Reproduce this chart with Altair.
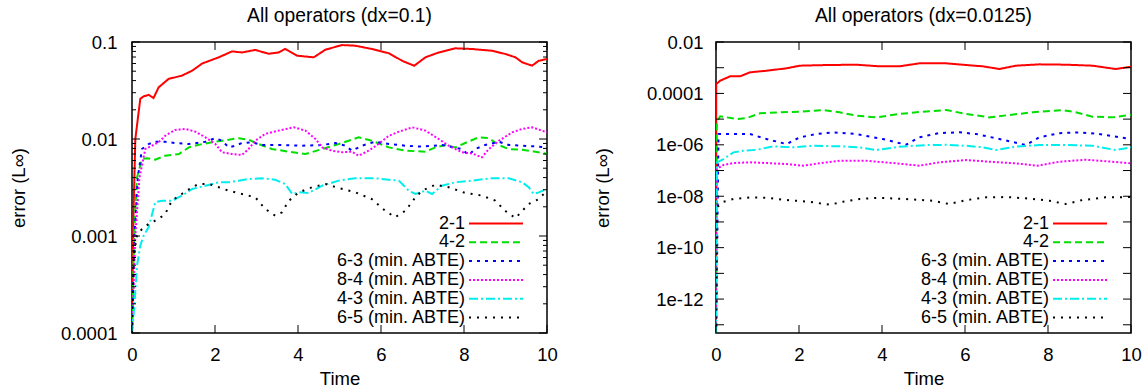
import altair as alt
import pandas as pd
import math

FONT = "Liberation Sans"

names = ["2-1", "4-2", "6-3 (min. ABTE)", "8-4 (min. ABTE)", "4-3 (min. ABTE)", "6-5 (min. ABTE)"]
colors = ["#ff0000", "#00e000", "#0000ff", "#ff00ff", "#00eeee", "#000000"]
dashes = [[1, 0], [7, 4], [3, 5], [2, 2], [9, 3, 2, 3], [2, 6]]

x_ticks = [0, 2, 4, 6, 8, 10]

# ---------------- left panel (dx=0.1) ----------------
L_t_21 = [0, 0.02, 0.04, 0.08, 0.20, 0.28, 0.40, 0.52, 0.64, 0.88, 1.20, 1.45, 1.69, 2.09, 2.41, 2.65, 2.97, 3.29, 3.53, 3.69, 3.98,
          4.38, 4.66, 5.06, 5.38, 5.78, 6.19, 6.51, 6.80, 7.07, 7.39, 7.79, 8.19, 8.67, 9.0, 9.24, 9.40, 9.64, 9.80, 10.0]
L_v_21 = [1e-4, 0.0006, 0.002, 0.010, 0.026, 0.0275, 0.0285, 0.0265, 0.034, 0.0416, 0.045, 0.0506, 0.060, 0.0695, 0.080, 0.078, 0.0828, 0.0757, 0.078, 0.0847, 0.0723,
          0.0695, 0.0833, 0.093, 0.0916, 0.0847, 0.0766, 0.064, 0.0569, 0.0695, 0.078, 0.0861, 0.0847, 0.0813, 0.0752, 0.0695, 0.0618, 0.057, 0.064, 0.0668]

L_t_42 = [0, 0.05, 0.12, 0.24, 0.36, 0.56, 0.80, 1.13, 1.37, 1.69, 1.93, 2.17, 2.57, 2.81, 3.05, 3.37, 3.78, 4.18, 4.58, 4.98, 5.46,
          5.78, 6.19, 6.59, 7.07, 7.31, 7.55, 7.79, 8.03, 8.35, 8.60, 8.84, 9.08, 9.40, 9.72, 10.0]
L_v_42 = [1e-4, 0.001, 0.004, 0.00622, 0.00632, 0.00612, 0.00673, 0.0070, 0.0082, 0.00887, 0.00924, 0.0096, 0.0102, 0.00984, 0.00887, 0.00788, 0.0074, 0.0070, 0.00788, 0.00887, 0.0104,
          0.0096, 0.0082, 0.00758, 0.0074, 0.0082, 0.00867, 0.0082, 0.0091, 0.0104, 0.0102, 0.00867, 0.00788, 0.00776, 0.0074, 0.00705]

L_t_63 = [0, 0.06, 0.14, 0.24, 0.40, 0.56, 0.80, 1.04, 1.37, 1.77, 2.01, 2.17, 2.33, 2.49, 2.65, 2.89, 3.13, 3.61, 4.10, 4.58, 4.90,
          5.14, 5.30, 5.54, 5.86, 6.19, 6.59, 6.99, 7.47, 7.95, 8.11, 8.27, 8.51, 8.84, 9.08, 9.40, 9.72, 10.0]
L_v_63 = [1e-4, 0.001, 0.004, 0.00788, 0.00887, 0.00937, 0.00937, 0.0091, 0.00887, 0.00937, 0.0102, 0.0096, 0.0082, 0.00853, 0.0091, 0.00925, 0.00867, 0.00867, 0.00853, 0.00867, 0.0091,
          0.00853, 0.00757, 0.00853, 0.00937, 0.00887, 0.00853, 0.00834, 0.00867, 0.00788, 0.00684, 0.00788, 0.00867, 0.00937, 0.00867, 0.00853, 0.0084, 0.0082]

L_t_84 = [0, 0.08, 0.18, 0.32, 0.64, 0.80, 1.04, 1.28, 1.53, 1.77, 2.01, 2.17, 2.41, 2.65, 2.81, 2.97, 3.21, 3.53, 3.90, 4.18, 4.42,
          4.58, 4.82, 5.06, 5.30, 5.46, 5.70, 5.94, 6.19, 6.43, 6.75, 7.07, 7.39, 7.63, 7.95, 8.19, 8.43, 8.60, 8.84, 9.16, 9.40, 9.64, 9.88, 10.0]
L_v_84 = [1e-4, 0.001, 0.004, 0.00788, 0.00924, 0.0108, 0.0124, 0.0127, 0.0119, 0.0104, 0.00887, 0.0073, 0.0070, 0.00684, 0.00788, 0.0096, 0.0113, 0.0122, 0.0132, 0.0122, 0.0100,
          0.0082, 0.00757, 0.0073, 0.0074, 0.00673, 0.00757, 0.00887, 0.0108, 0.0119, 0.0132, 0.0122, 0.0100, 0.00853, 0.0073, 0.0071, 0.00647, 0.00788, 0.0096, 0.0117, 0.0127, 0.0132, 0.0122, 0.0117]

L_t_43 = [0, 0.06, 0.12, 0.20, 0.28, 0.40, 0.56, 0.72, 0.96, 1.20, 1.45, 1.77, 2.09, 2.33, 2.57, 2.81, 3.13, 3.45, 3.69, 3.86, 4.02,
          4.26, 4.58, 4.98, 5.38, 5.86, 6.19, 6.43, 6.67, 6.83, 7.07, 7.23, 7.47, 7.79, 8.19, 8.67, 9.08, 9.40, 9.56, 9.68, 9.80, 10.0]
L_v_43 = [1e-4, 0.0002, 0.000494, 0.000794, 0.00101, 0.00123, 0.00223, 0.00231, 0.00231, 0.0026, 0.00305, 0.0033, 0.00358, 0.00358, 0.00372, 0.00387, 0.00394, 0.0038, 0.00344, 0.00271, 0.00282,
          0.00278, 0.0033, 0.00372, 0.00394, 0.00394, 0.0038, 0.00372, 0.00293, 0.00271, 0.00293, 0.00271, 0.0033, 0.00358, 0.00372, 0.00394, 0.00394, 0.00358, 0.00318, 0.00271, 0.00282, 0.00305]

L_t_65 = [0, 0.04, 0.12, 0.24, 0.40, 0.64, 0.80, 0.96, 1.20, 1.45, 1.61, 1.85, 2.09, 2.33, 2.65, 2.97, 3.21, 3.45, 3.61, 3.78, 4.02,
          4.34, 4.66, 4.98, 5.38, 5.78, 6.10, 6.34, 6.59, 6.83, 6.99, 7.31, 7.63, 8.03, 8.43, 8.75, 8.99, 9.24, 9.56, 9.80, 10.0]
L_v_65 = [1e-4, 0.000627, 0.00101, 0.00118, 0.00133, 0.0015, 0.00169, 0.00231, 0.00271, 0.00318, 0.00344, 0.00344, 0.00318, 0.00293, 0.00271, 0.00251, 0.0019, 0.00162, 0.00175, 0.00231, 0.00282,
          0.00318, 0.00344, 0.00312, 0.00282, 0.0024, 0.00182, 0.00156, 0.00182, 0.00251, 0.00293, 0.00338, 0.00318, 0.00278, 0.00261, 0.00232, 0.00182, 0.00153, 0.00214, 0.0024, 0.00293]

# ---------------- right panel (dx=0.0125) ----------------
R_t_21 = [0, 0.005, 0.10, 0.34, 0.58, 0.82, 1.22, 1.70, 2.02, 2.66, 3.38, 3.94, 4.42, 4.90, 5.55, 6.03, 6.43, 6.83, 7.23, 7.79, 8.43, 9.07, 9.63, 10.0]
R_v_21 = [1e-14, 2.3e-4, 3.12e-4, 4.62e-4, 4.62e-4, 6.62e-4, 7.64e-4, 9.48e-4, 1.2e-3, 1.27e-3, 1.31e-3, 1.13e-3, 1.13e-3, 1.48e-3, 1.48e-3, 1.27e-3, 1.13e-3, 8.9e-4, 1.2e-3, 1.35e-3, 1.31e-3, 1.2e-3, 8.9e-4, 1.09e-3]

R_t_42 = [0, 0.02, 0.10, 0.26, 0.50, 0.74, 1.06, 1.54, 2.02, 2.58, 2.98, 3.38, 3.86, 4.42, 4.98, 5.55, 6.03, 6.59, 7.07, 7.63, 8.35, 8.67, 9.07, 9.55, 10.0]
R_v_42 = [1e-14, 8e-6, 1.29e-5, 1.17e-5, 1.01e-5, 1.1e-5, 1.68e-5, 1.84e-5, 1.94e-5, 2.26e-5, 1.84e-5, 1.36e-5, 1.17e-5, 1.58e-5, 1.94e-5, 2.26e-5, 1.58e-5, 1.17e-5, 1.45e-5, 1.84e-5, 2.26e-5, 1.84e-5, 1.24e-5, 1.17e-5, 1.48e-5]

R_t_63 = [0, 0.06, 0.42, 0.82, 1.22, 1.70, 2.02, 2.42, 2.82, 3.38, 4.02, 4.58, 4.90, 5.38, 5.87, 6.27, 6.83, 7.47, 7.79, 8.27, 8.75, 9.23, 10.0]
R_v_63 = [1e-14, 2.63e-6, 2.63e-6, 2.63e-6, 1.68e-6, 1.07e-6, 1.96e-6, 2.63e-6, 3.06e-6, 2.63e-6, 1.68e-6, 1.01e-6, 1.96e-6, 2.88e-6, 3.06e-6, 2.63e-6, 1.68e-6, 9.8e-7, 1.96e-6, 2.83e-6, 3.06e-6, 2.63e-6, 1.68e-6]

R_t_84 = [0, 0.02, 0.18, 0.42, 0.82, 1.22, 1.70, 2.10, 2.50, 2.98, 3.62, 4.26, 4.90, 5.38, 6.03, 6.59, 7.23, 7.75, 8.27, 8.91, 9.47, 10.0]
R_v_84 = [1e-14, 1.14e-7, 1.64e-7, 1.96e-7, 2.08e-7, 1.96e-7, 1.79e-7, 1.54e-7, 1.92e-7, 2.4e-7, 2.4e-7, 1.96e-7, 1.54e-7, 2.08e-7, 2.56e-7, 2.2e-7, 1.9e-7, 1.54e-7, 2.2e-7, 2.63e-7, 2.25e-7, 1.9e-7]

R_t_43 = [0, 0.02, 0.18, 0.42, 0.66, 0.98, 1.38, 1.86, 2.34, 2.98, 3.46, 3.86, 4.42, 5.07, 5.55, 6.03, 6.43, 6.75, 7.23, 7.79, 8.43, 9.07, 9.63, 10.0]
R_v_43 = [1e-14, 2.08e-7, 2.8e-7, 5.1e-7, 5.9e-7, 6.4e-7, 8.75e-7, 8.0e-7, 9.2e-7, 8.75e-7, 8.0e-7, 6.28e-7, 8.5e-7, 9.8e-7, 1.0e-6, 9.2e-7, 8.0e-7, 6.28e-7, 8.5e-7, 9.8e-7, 9.8e-7, 9.2e-7, 6.28e-7, 8.0e-7]

R_t_65 = [0, 0.02, 0.18, 0.42, 0.82, 1.22, 1.70, 2.26, 2.74, 3.06, 3.46, 3.94, 4.58, 5.22, 5.62, 6.03, 6.51, 6.99, 7.47, 8.03, 8.43, 8.83, 9.39, 10.0]
R_v_65 = [1e-14, 3.7e-9, 6.1e-9, 7.8e-9, 9.05e-9, 8.7e-9, 7.1e-9, 6.1e-9, 4.67e-9, 6.1e-9, 7.8e-9, 8.7e-9, 7.8e-9, 6.7e-9, 4.97e-9, 7.1e-9, 9.05e-9, 9.3e-9, 8.3e-9, 6.7e-9, 4.97e-9, 7.1e-9, 9.05e-9, 9.3e-9]

# axis ticks / labels
L_ylab_vals = [0.1, 0.01, 0.001, 0.0001]
L_ylab_text = ["0.1", "0.01", "0.001", "0.0001"]
L_major = [1e-4, 1e-3, 1e-2, 1e-1]
L_minor = [m * 10.0 ** e for e in (-4, -3, -2) for m in range(2, 10)]
L_domain = [1e-4, 0.1]

R_ylab_vals = [1e-2, 1e-4, 1e-6, 1e-8, 1e-10, 1e-12]
R_ylab_text = ["0.01", "0.0001", "1e-06", "1e-08", "1e-10", "1e-12"]
R_major = [10.0 ** e for e in range(-13, -1)]
R_minor = []
R_domain = [10 ** -13.32, 1e-2]

W, H = 415, 291
TICK_FS = 18.5
TITLE_FS = 19.3
LEG_FS = 18


def make_df(ts, vs):
    rows = []
    for name, t, v in zip(names, ts, vs):
        assert len(t) == len(v), (name, len(t), len(v))
        for a, b in zip(t, v):
            rows.append({"series": name, "t": a, "v": b})
    return pd.DataFrame(rows)


def label_expr(vals, texts):
    expr = "''"
    for v, s in zip(reversed(vals), reversed(texts)):
        expr = f"abs(log(datum.value)/LN10 - ({round(math.log10(v))})) < 0.01 ? '{s}' : ({expr})"
    return expr


def panel(df, title, ydomain, ylab_vals, ylab_texts, ymajor, yminor, lab_pad, title_pad):
    xs = alt.Scale(domain=[0, 10], nice=False, zero=False)
    ys = alt.Scale(type="log", domain=ydomain, nice=False)
    xaxis = alt.Axis(values=x_ticks, title="Time", ticks=False, tickSize=0, labelPadding=12,
                     labelFlush=False, titlePadding=6, domain=False, grid=False, format="d")
    yaxis = alt.Axis(values=ylab_vals, labelExpr=label_expr(ylab_vals, ylab_texts), title="error (L∞)",
                     ticks=False, tickSize=0, labelPadding=lab_pad, titlePadding=title_pad,
                     domain=False, grid=False)
    X = alt.X("t:Q", scale=xs, axis=xaxis)
    Y = alt.Y("v:Q", scale=ys, axis=yaxis)

    legend = alt.Legend(orient="none", legendX=328, legendY=172.5, title=None,
                        symbolType="M0,0H54", symbolSize=4, symbolStrokeWidth=2,
                        labelAlign="right", labelOffset={"expr": "-13"}, labelFont=FONT, labelFontSize=LEG_FS,
                        labelColor="black", rowPadding=0.8, padding=0, labelLimit=0)

    lines = alt.Chart(df).mark_line(strokeWidth=2, clip=True).encode(
        x=X, y=Y,
        color=alt.Color("series:N", scale=alt.Scale(domain=names, range=colors), legend=legend, sort=names),
        strokeDash=alt.StrokeDash("series:N", scale=alt.Scale(domain=names, range=dashes), legend=legend, sort=names),
    )

    layers = [lines]
    for vals, L in ((ymajor, 8), (yminor, 4)):
        if not vals:
            continue
        d = pd.DataFrame({"v": vals})
        layers.append(alt.Chart(d).mark_rule(color="black", strokeWidth=1).encode(
            y=Y, x=alt.value(0), x2=alt.value(L)))
        layers.append(alt.Chart(d).mark_rule(color="black", strokeWidth=1).encode(
            y=Y, x=alt.value(W - L), x2=alt.value(W)))
    xd = pd.DataFrame({"t": x_ticks})
    layers.append(alt.Chart(xd).mark_rule(color="black", strokeWidth=1).encode(
        x=X, y=alt.value(H - 8), y2=alt.value(H)))
    layers.append(alt.Chart(xd).mark_rule(color="black", strokeWidth=1).encode(
        x=X, y=alt.value(0), y2=alt.value(8)))

    return alt.layer(*layers).properties(
        width=W, height=H,
        title=alt.TitleParams(title, font=FONT, fontSize=TITLE_FS, fontWeight="normal", color="black", offset=7),
    )


left = panel(make_df([L_t_21, L_t_42, L_t_63, L_t_84, L_t_43, L_t_65],
                     [L_v_21, L_v_42, L_v_63, L_v_84, L_v_43, L_v_65]),
             "All operators (dx=0.1)", L_domain, L_ylab_vals, L_ylab_text, L_major, L_minor, 15, 32)
right = panel(make_df([R_t_21, R_t_42, R_t_63, R_t_84, R_t_43, R_t_65],
                      [R_v_21, R_v_42, R_v_63, R_v_84, R_v_43, R_v_65]),
              "All operators (dx=0.0125)", R_domain, R_ylab_vals, R_ylab_text, R_major, R_minor, 13, 34)

chart = alt.hconcat(left, right, spacing=33).resolve_scale(
    y="independent", color="independent", strokeDash="independent"
).properties(
    padding={"left": 8, "top": 5, "right": 0, "bottom": 0}
).configure_view(stroke="black", strokeWidth=1.5).configure_axis(
    labelFont=FONT, titleFont=FONT, labelFontSize=TICK_FS, titleFontSize=TICK_FS, labelColor="black",
    titleColor="black", titleFontWeight="normal"
)

chart.save("out.html", embed_options={"renderer": "svg", "actions": False})
